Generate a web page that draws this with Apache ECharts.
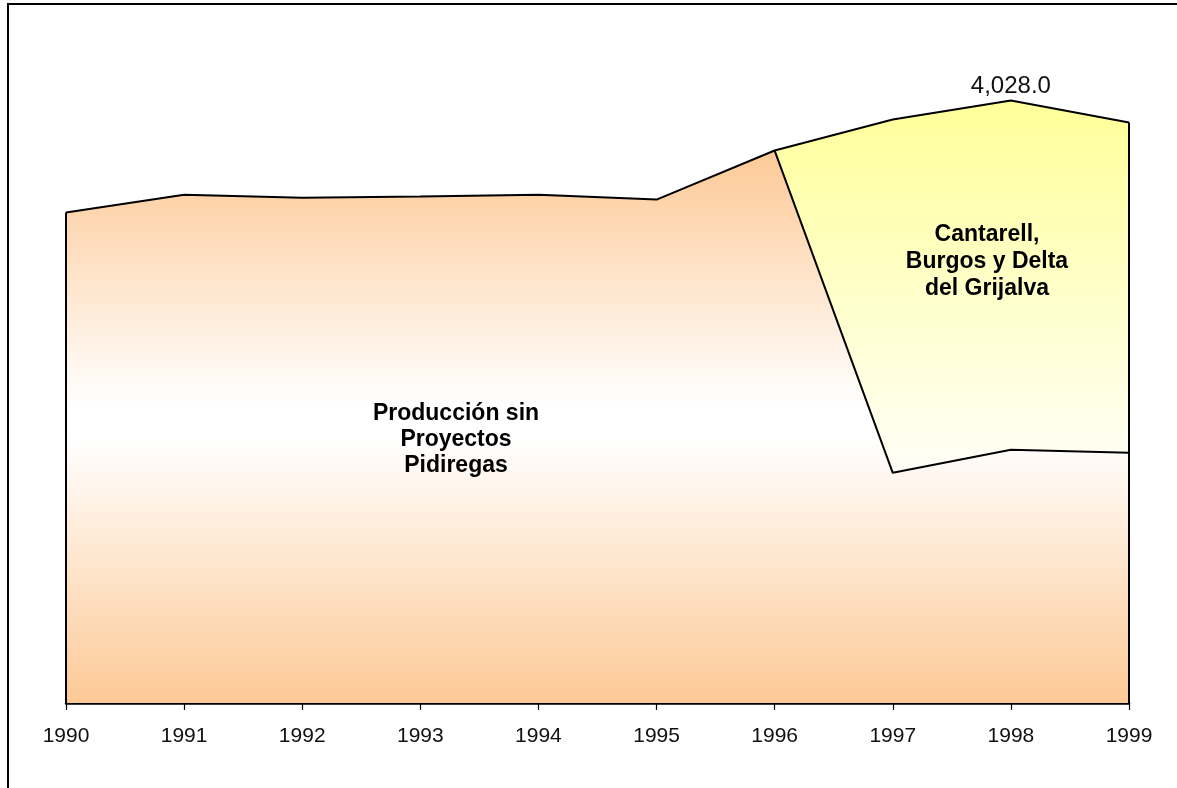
<!DOCTYPE html>
<html>
<head>
<meta charset="utf-8">
<script src="https://cdn.jsdelivr.net/npm/echarts@6/dist/echarts.min.js"></script>
<style>
  html, body { margin: 0; padding: 0; background: #fff; }
  #chart { width: 1177px; height: 788px; }
</style>
</head>
<body>
<div id="chart"></div>
<script>
  // datos
  const years = ['1990', '1991', '1992', '1993', '1994', '1995', '1996', '1997', '1998', '1999']
  const sinPidiregas = [3279, 3399, 3379, 3386, 3399, 3366, 3694, 1539, 1693, 1673]
  const cantarell = [null, null, null, null, null, null, 0, 2362, 2335, 2208]
  const labelIndex = 8 // 1998 -> 4,028.0

  const totals = years.map((y, i) => sinPidiregas[i] + (cantarell[i] || 0))
  const fmt = v => v.toLocaleString('en-US', { minimumFractionDigits: 1, maximumFractionDigits: 1 })

  const chart = echarts.init(document.getElementById('chart'))
  const font = 'Arial, "Liberation Sans", sans-serif'
  const edge = { color: '#000', width: 2, type: 'solid' }

  const option = {
    animation: false,
    grid: { left: 66, right: 48, top: 30, bottom: 85 },
    xAxis: {
      type: 'category',
      data: years,
      boundaryGap: false,
      axisLine: { lineStyle: { color: '#000', width: 2.5 } },
      axisTick: { show: true, length: 7, lineStyle: { color: '#000', width: 1.2 } },
      axisLabel: { color: '#111', fontSize: 21, fontFamily: font, margin: 23 }
    },
    yAxis: {
      type: 'value',
      min: 0,
      max: 4500,
      show: false,
      splitLine: { show: false }
    },
    series: [
      {
        name: 'Producción sin Proyectos Pidiregas',
        type: 'line',
        stack: 'total',
        data: sinPidiregas,
        symbol: 'none',
        lineStyle: { color: '#000', width: 2 },
        areaStyle: {
          opacity: 1,
          color: new echarts.graphic.LinearGradient(0, 0, 0, 1, [
            { offset: 0, color: '#FDC996' },
            { offset: 0.46, color: '#FFFFFF' },
            { offset: 0.52, color: '#FFFFFF' },
            { offset: 1, color: '#FDC996' }
          ])
        },
        markLine: {
          silent: true,
          symbol: 'none',
          label: { show: false },
          lineStyle: edge,
          data: [[{ coord: [years[0], 0] }, { coord: [years[0], sinPidiregas[0]] }]]
        },
        z: 3
      },
      {
        name: 'Cantarell, Burgos y Delta del Grijalva',
        type: 'line',
        stack: 'total',
        data: cantarell,
        symbol: 'none',
        lineStyle: { color: '#000', width: 2 },
        areaStyle: {
          opacity: 1,
          color: new echarts.graphic.LinearGradient(0, 0, 0, 1, [
            { offset: 0, color: '#FFFF99' },
            { offset: 1, color: '#FFFFF8' }
          ])
        },
        markLine: {
          silent: true,
          symbol: 'none',
          label: { show: false },
          lineStyle: edge,
          data: [[{ coord: [years[9], 0] }, { coord: [years[9], totals[9]] }]]
        },
        markPoint: {
          silent: true,
          symbol: 'circle',
          symbolSize: 0,
          itemStyle: { color: 'transparent' },
          label: {
            show: true,
            position: 'top',
            distance: 2,
            formatter: p => fmt(p.value),
            fontSize: 24,
            fontFamily: font,
            color: '#111'
          },
          data: [{ coord: [years[labelIndex], totals[labelIndex]], value: totals[labelIndex] }]
        },
        z: 2
      }
    ],
    graphic: [
      {
        type: 'rect',
        z: 100,
        shape: { x: 8, y: 4, width: 1300, height: 900 },
        style: { fill: 'none', stroke: '#000', lineWidth: 2 },
        silent: true
      },
      {
        type: 'text',
        z: 100,
        style: {
          text: 'Producción sin\nProyectos\nPidiregas',
          font: 'bold 23px ' + font,
          fill: '#000',
          align: 'center',
          verticalAlign: 'middle',
          lineHeight: 26
        },
        x: 456, y: 440
      },
      {
        type: 'text',
        z: 100,
        style: {
          text: 'Cantarell,\nBurgos y Delta\ndel Grijalva',
          font: 'bold 23px ' + font,
          fill: '#000',
          align: 'center',
          verticalAlign: 'middle',
          lineHeight: 27
        },
        x: 987, y: 262
      }
    ]
  }

  chart.setOption(option)
  window.addEventListener('resize', () => {
    chart.resize()
  }, false)
</script>
</body>
</html>
